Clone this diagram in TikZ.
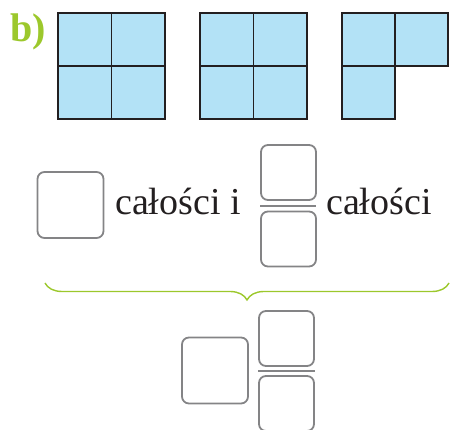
\documentclass[tikz,border=0pt]{standalone}
\usepackage{fontspec}
\setmainfont{Liberation Serif}
\usetikzlibrary{decorations.pathreplacing}

\definecolor{tilefill}{RGB}{179,226,246}
\definecolor{labelgreen}{RGB}{156,200,44}
\definecolor{boxgray}{RGB}{132,132,134}
\definecolor{inkblack}{RGB}{35,31,32}

\tikzset{
  tile/.style={fill=tilefill, draw=inkblack, line width=1.6pt},
  answer/.style={draw=boxgray, line width=1.8pt, rounded corners=7pt,
    minimum width=#1, minimum height=#1, inner sep=0pt},
  word/.style={inner sep=0pt, anchor=base west, text=inkblack,
    font=\fontsize{38}{40}\selectfont},
  fracbar/.style={draw=boxgray, line width=1.8pt},
}

\begin{document}
\begin{tikzpicture}[x=1pt, y=-1pt]
        \useasboundingbox (0,0) rectangle (451,430);

        \node[inner sep=0pt, anchor=base west, text=labelgreen,
              font=\fontsize{40}{42}\selectfont\bfseries] (label) at (10,42) {b)};

        % the three pictures
        \foreach \gx in {58,200} {
            \foreach \i in {0,1}
                \foreach \j in {0,1}
                    \draw[tile] (\gx+\i*53.5, 13+\j*53) rectangle ++(53.5,53);
        }
        \foreach \i/\j in {0/0, 1/0, 0/1}
            \draw[tile] (342+\i*53, 13+\j*53) rectangle ++(53,53);

        % first line
        \node[answer=66pt] (whole) at (70.5,205) {};
        \node[word] (parts) at (115,215) {całości i};
        \node[answer=55pt] (num) at (288.5,172.5) {};
        \node[answer=55pt] (den) at (288.5,239) {};
        \coordinate (bar-l) at (260,206);
        \coordinate (bar-r) at (316,206);
        \draw[fracbar] (bar-l) -- (bar-r);
        \node[word] (parts2) at (326,215) {całości};

        % brace
        \coordinate (brace-l) at (45,283);
        \coordinate (brace-r) at (449,283);
        \draw[labelgreen, line width=1.4pt, decorate,
              decoration={brace, mirror, amplitude=17pt}] (brace-l) -- (brace-r);

        % second line
        \node[answer=66pt] (whole2) at (215,370.5) {};
        \node[answer=55pt] (num2) at (286.5,338.5) {};
        \node[answer=55pt] (den2) at (286.5,403.5) {};
        \coordinate (bar2-l) at (258,371);
        \coordinate (bar2-r) at (315,371);
        \draw[fracbar] (bar2-l) -- (bar2-r);
\end{tikzpicture}
\end{document}
